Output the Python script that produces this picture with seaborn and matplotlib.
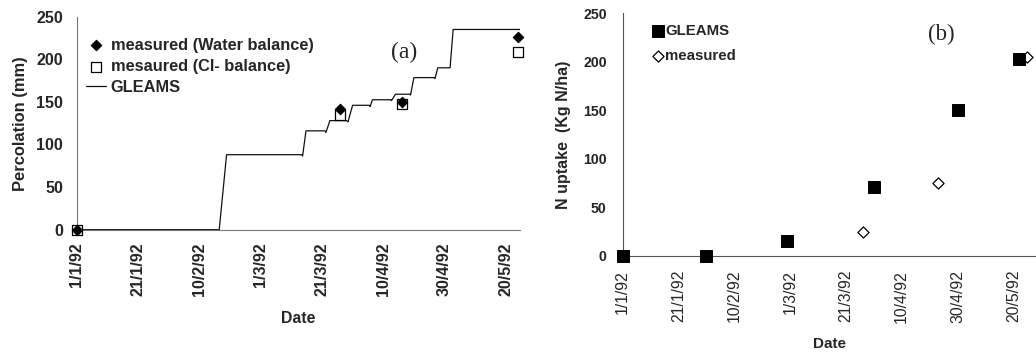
import numpy as np
import pandas as pd
import seaborn as sns
import matplotlib.pyplot as plt

# days counted from 1/1/92
tick_days = [0, 20, 40, 60, 80, 100, 120, 140]
tick_labels = ["1/1/92", "21/1/92", "10/2/92", "1/3/92", "21/3/92", "10/4/92", "30/4/92", "20/5/92"]

# (a) percolation
gleams_day = [0, 46.5, 48.9, 73.4, 73.7, 74.8, 81.0, 81.3, 82.6, 88.0, 88.5, 90.0, 95.5, 95.7, 96.5,
              102.5, 102.7, 104.0, 108.7, 108.9, 110.0, 116.7, 116.9, 117.8, 121.8, 122.8, 145]
gleams_perc = [0, 0, 88, 88, 86.5, 116, 116, 114, 128, 128, 126.5, 146, 146, 144.5, 152.5,
               152.5, 151.5, 159, 159, 158, 178.5, 178.5, 177.5, 190, 190, 235, 235]
wb_day = [0, 86, 106, 144]
wb_perc = [0, 142, 150, 226]
cl_day = [0, 86, 106, 144]
cl_perc = [0, 135, 147, 209]

# (b) N uptake
n_gleams_day = [0, 30, 59, 90, 120, 142]
n_gleams = [0, 0, 15, 71, 150, 203]
n_meas_day = [86, 113, 145]
n_meas = [25, 75, 205]

sns.set_style("white")
plt.rcParams["font.family"] = ["Liberation Sans", "DejaVu Sans"]

fig = plt.figure(figsize=(10.36, 3.55), dpi=100)
ax1 = fig.add_axes([0.0740, 0.353, 0.4279, 0.600])
ax2 = fig.add_axes([0.601, 0.2789, 0.399, 0.6836])

# ---- panel (a)
sns.lineplot(x=gleams_day, y=gleams_perc, color="#111111", lw=0.9, estimator=None,
             sort=False, label="GLEAMS", ax=ax1)
sns.scatterplot(x=wb_day, y=wb_perc, marker="D", s=28, color="black", edgecolor="black",
                linewidth=0.8, label="measured (Water balance)", clip_on=False, zorder=4, ax=ax1)
sns.scatterplot(x=cl_day, y=cl_perc, marker="s", s=45, facecolor="white", edgecolor="black",
                linewidth=0.9, label="mesaured (Cl- balance)", clip_on=False, zorder=3, ax=ax1)
ax1.set_xlim(0, 144.6)
ax1.set_ylim(0, 250)
ax1.set_xticks(tick_days)
ax1.set_xticklabels(tick_labels, rotation=90, fontsize=11.5, fontweight="bold")
ax1.set_yticks([0, 50, 100, 150, 200, 250])
ax1.set_yticklabels(["0", "50", "100", "150", "200", "250"], fontsize=11.5, fontweight="bold")
ax1.tick_params(axis="x", direction="out", length=4, width=0.8, pad=5, color="#777777")
ax1.tick_params(axis="y", direction="out", length=5, width=0.8, pad=4.8, color="#777777")
ax1.set_xlabel("Date", fontsize=11.4, fontweight="bold", labelpad=11)
ax1.set_ylabel("Percolation (mm)", fontsize=11.9, fontweight="bold", labelpad=6)
h, l = ax1.get_legend_handles_labels()
order = [1, 2, 0]
ax1.legend([h[i] for i in order], [l[i] for i in order], loc="upper left",
           bbox_to_anchor=(-0.005, 0.955), frameon=False,
           prop={"weight": "bold", "size": 11.8}, handlelength=1.2, handletextpad=0.3,
           labelspacing=0.38, borderaxespad=0.3)
ax1.text(0.738, 0.83, "(a)", transform=ax1.transAxes, fontsize=17,
         family="Liberation Serif", ha="center", va="center")

# ---- panel (b)
sns.scatterplot(x=n_gleams_day, y=n_gleams, marker="s", s=75, color="black", edgecolor="black",
                label="GLEAMS", clip_on=False, zorder=4, ax=ax2)
sns.scatterplot(x=n_meas_day, y=n_meas, marker="D", s=32, facecolor="white", edgecolor="black",
                linewidth=0.9, label="measured", clip_on=False, zorder=3, ax=ax2)
ax2.set_xlim(0, 148.1)
ax2.set_ylim(0, 250)
ax2.set_xticks(tick_days)
ax2.set_xticklabels(tick_labels, rotation=90, fontsize=11.3)
ax2.set_yticks([0, 50, 100, 150, 200, 250])
ax2.set_yticklabels(["0", "50", "100", "150", "200", "250"], fontsize=10.2, fontweight="bold")
ax2.tick_params(axis="x", direction="inout", length=10, width=0.8, pad=5, color="#555555")
ax2.tick_params(axis="y", direction="inout", length=10, width=0.8, pad=6.5, color="#555555")
ax2.set_xlabel("Date", fontsize=11, fontweight="bold", labelpad=10)
ax2.set_ylabel("N uptake  (Kg N/ha)", fontsize=11.5, fontweight="bold", labelpad=9)
ax2.legend(loc="upper left", bbox_to_anchor=(0.048, 1.0), frameon=False,
           prop={"weight": "bold", "size": 10.8}, handlelength=0.7, handletextpad=0.1,
           labelspacing=0.75, borderaxespad=0.3)
ax2.text(0.772, 0.911, "(b)", transform=ax2.transAxes, fontsize=16.5,
         family="Liberation Serif", ha="center", va="center")

for ax, c in [(ax1, "#777777"), (ax2, "#555555")]:
    sns.despine(ax=ax)
    ax.spines["left"].set_color(c)
    ax.spines["bottom"].set_color(c)
    ax.spines["left"].set_linewidth(0.8)
    ax.spines["bottom"].set_linewidth(0.8)
    ax.set_facecolor("none")

fig.savefig("out.png", dpi=100)
